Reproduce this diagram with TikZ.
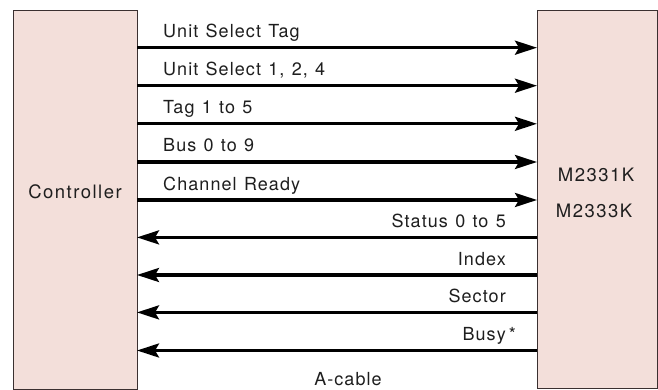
\documentclass[tikz,border=0pt]{standalone}
\usepackage{fontspec}
\setmainfont{TeX Gyre Heros}
\usetikzlibrary{arrows.meta}
\definecolor{boxfill}{HTML}{F3DFDA}
\definecolor{boxline}{HTML}{3A3030}
\definecolor{txt}{HTML}{1E1E1E}
\newfontfamily\lblfont[LetterSpace=6,WordSpace=1.2]{TeX Gyre Heros}
\newfontfamily\boxfont[LetterSpace=8]{TeX Gyre Heros}
\begin{document}
\begin{tikzpicture}[x=1pt,y=1pt,
  unitbox/.style={draw=boxline,fill=boxfill,line width=0.9pt,inner sep=0pt,outer sep=0pt},
  sig/.style={line width=3.2pt,-{Stealth[length=22pt,width=14pt,inset=4pt]}},
  lbl/.style={font=\lblfont\fontsize{18}{21}\selectfont,text=txt,inner sep=0pt},
  boxlbl/.style={font=\boxfont\fontsize{18.5}{21}\selectfont,text=txt,inner sep=0pt}]
\useasboundingbox (0,0) rectangle (658,390);
\node[unitbox,minimum width=124pt,minimum height=379pt] (ctrl) at (75,190.5) {};
\node[unitbox,minimum width=120pt,minimum height=378pt] (dev) at (597,191) {};
\node[boxlbl,anchor=base] (ctrltxt) at (75,191) {Controller};
\node[boxlbl,anchor=base] (m1) at (596,208.5) {M2331K};
\node[boxlbl,anchor=base] (m2) at (594,172) {M2333K};
% controller -> device
\draw[sig] (ctrl.east|-0,342.3) -- (dev.west|-0,342.3);
\draw[sig] (ctrl.east|-0,304.3) -- (dev.west|-0,304.3);
\draw[sig] (ctrl.east|-0,266.2) -- (dev.west|-0,266.2);
\draw[sig] (ctrl.east|-0,228.0) -- (dev.west|-0,228.0);
\draw[sig] (ctrl.east|-0,190.0) -- (dev.west|-0,190.0);
% device -> controller
\draw[sig] (dev.west|-0,152.6) -- (ctrl.east|-0,152.6);
\draw[sig] (dev.west|-0,115.0) -- (ctrl.east|-0,115.0);
\draw[sig] (dev.west|-0,77.6) -- (ctrl.east|-0,77.6);
\draw[sig] (dev.west|-0,39.5) -- (ctrl.east|-0,39.5);
% labels
\node[lbl,anchor=base west] (l1) at (163,352) {Unit Select Tag};
\node[lbl,anchor=base west] (l2) at (163,314) {Unit Select 1, 2, 4};
\node[lbl,anchor=base west] (l3) at (163,276) {Tag 1 to 5};
\node[lbl,anchor=base west] (l4) at (163,238) {Bus 0 to 9};
\node[lbl,anchor=base west] (l5) at (163,199.5) {Channel Ready};
\node[lbl,anchor=base east] (l6) at (506,162.3) {Status 0 to 5};
\node[lbl,anchor=base east] (l7) at (506,124.7) {Index};
\node[lbl,anchor=base east] (l8) at (506,87) {Sector};
\node[lbl,anchor=base east] (l9) at (506,49.2) {Busy\rlap{\,*}};
\node[lbl,anchor=base] (cable) at (348,4.3) {A-cable};
\end{tikzpicture}
\end{document}
